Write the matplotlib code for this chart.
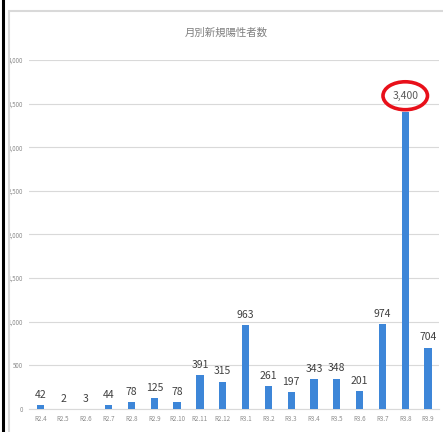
import matplotlib
matplotlib.use("Agg")
from matplotlib import pyplot as plt
from matplotlib.patches import Ellipse, Rectangle
from matplotlib.lines import Line2D

plt.rcParams['font.family'] = ['Noto Sans CJK JP', 'DejaVu Sans']

title = "月別新規陽性者数"
months = ["R2.4", "R2.5", "R2.6", "R2.7", "R2.8", "R2.9", "R2.10", "R2.11", "R2.12",
          "R3.1", "R3.2", "R3.3", "R3.4", "R3.5", "R3.6", "R3.7", "R3.8", "R3.9"]
counts = [42, 2, 3, 44, 78, 125, 78, 391, 315,
          963, 261, 197, 343, 348, 201, 974, 3400, 704]
y_ticks = [0, 500, 1000, 1500, 2000, 2500, 3000, 3500, 4000]
highlight = 16

fig = plt.figure(figsize=(4.43, 4.32), dpi=100)
ax = fig.add_axes([0.065, 0.0532, 0.927, 0.808])

# outer frame lines
fig.add_artist(Line2D([0.006, 0.006], [0, 1], color='black', lw=2.2, transform=fig.transFigure))
fig.add_artist(Rectangle((0.02, -0.01), 1.0, 0.985, transform=fig.transFigure,
                         fill=False, edgecolor='#d9d9d9', lw=1.5))

x = list(range(len(counts)))
ax.bar(x, counts, width=0.32, color='#3d86d8', zorder=3)

for i, v in enumerate(counts):
    label = f"{v:,}"
    if i == highlight:
        ax.text(i, v + 190, label, ha='center', va='center', fontsize=7.5, color='#595959')
    else:
        ax.text(i, v + 60, label, ha='center', va='bottom', fontsize=7.5, color='#404040')

# red ring around the peak label
ax.add_patch(Ellipse((highlight, counts[highlight] + 190), 1.95, 320,
                     fill=False, edgecolor='#e8101a', lw=2.6, zorder=5, clip_on=False))

ax.set_xlim(-0.5, len(counts) - 0.5)
ax.set_ylim(0, 4000)
ax.set_yticks(y_ticks)
ax.set_yticklabels([f"{t:,}" for t in y_ticks], fontsize=4.5, color='#8c8c8c')
ax.set_xticks(x)
ax.set_xticklabels(months, fontsize=4.5, color='#8c8c8c')
ax.tick_params(length=0, pad=4)
ax.grid(axis='y', color='#d9d9d9', lw=0.8, zorder=0)
for side in ['top', 'right', 'left']:
    ax.spines[side].set_visible(False)
ax.spines['bottom'].set_color('#d9d9d9')

fig.text(0.51, 0.925, title, ha='center', va='center', fontsize=7.5, color='#7f7f7f')

fig.savefig("out.png", dpi=100)
